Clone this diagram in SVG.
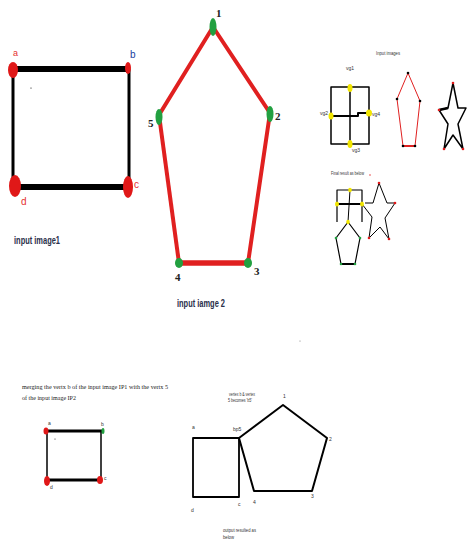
<svg xmlns="http://www.w3.org/2000/svg" width="467" height="542" viewBox="0 0 467 542">
<style>
.lbl{font-family:"Liberation Sans",Arial,sans-serif;}
.ser{font-family:"Liberation Serif","Times New Roman",serif;fill:#222;}
.cap{font-family:"Liberation Sans",Arial,sans-serif;font-weight:bold;fill:#2a2f4a;font-size:11px;}
.tiny{font-family:"Liberation Sans",Arial,sans-serif;font-size:5px;fill:#333;}
.blk{fill:none;stroke:#000;stroke-linejoin:round;}
.red{fill:none;stroke:#e02020;stroke-linejoin:round;}
.rdot{fill:#e01818;}
.gdot{fill:#22a040;}
.ydot{fill:#f2e600;}
</style>
<rect width="467" height="542" fill="#fff"/>

<g id="image1">
  <line x1="13" y1="69" x2="13" y2="187" class="blk" stroke-width="3"/>
  <line x1="129" y1="69" x2="129" y2="187" class="blk" stroke-width="3"/>
  <line x1="12" y1="69" x2="130" y2="69" class="blk" stroke-width="6"/>
  <line x1="12" y1="187" x2="130" y2="187" class="blk" stroke-width="6"/>
  <ellipse cx="13" cy="70" rx="5" ry="8" class="rdot"/>
  <ellipse cx="128" cy="68" rx="3" ry="6" class="rdot"/>
  <ellipse cx="15" cy="186" rx="6" ry="11" class="rdot"/>
  <ellipse cx="128" cy="187" rx="5" ry="11" class="rdot"/>
  <circle cx="31" cy="88" r="0.6" fill="#000"/>
  <text x="13" y="56" class="lbl" font-size="9" fill="#e53030">a</text>
  <text x="130" y="58" class="lbl" font-size="10" fill="#2040a0">b</text>
  <text x="134" y="188" class="lbl" font-size="10" fill="#e53030">c</text>
  <text x="21" y="205" class="lbl" font-size="10" fill="#e53030">d</text>
  <text x="14" y="244" class="cap" textLength="46" lengthAdjust="spacingAndGlyphs">input image1</text>
</g>

<g id="image2">
  <polyline points="159,115 213,27 270,113 248,263" class="red" stroke-width="4"/>
  <line x1="159" y1="115" x2="179" y2="263" class="red" stroke-width="4"/>
  <line x1="179" y1="263" x2="248" y2="263" class="red" stroke-width="5.5"/>
  <ellipse cx="213" cy="27" rx="3.5" ry="9" class="gdot"/>
  <ellipse cx="270" cy="114" rx="3.5" ry="8" class="gdot"/>
  <ellipse cx="248" cy="263" rx="4" ry="5" class="gdot"/>
  <ellipse cx="179" cy="263" rx="4" ry="5" class="gdot"/>
  <ellipse cx="159" cy="117" rx="3.5" ry="8" class="gdot"/>
  <text x="216" y="17" class="ser" font-size="11" font-weight="bold">1</text>
  <text x="275" y="120" class="ser" font-size="11" font-weight="bold">2</text>
  <text x="254" y="275" class="ser" font-size="11" font-weight="bold">3</text>
  <text x="175" y="281" class="ser" font-size="11" font-weight="bold">4</text>
  <text x="148" y="127" class="ser" font-size="11" font-weight="bold">5</text>
  <text x="177" y="307" class="cap" textLength="48" lengthAdjust="spacingAndGlyphs">input iamge 2</text>
</g>

<g id="input-images">
  <text x="376" y="55" class="tiny" textLength="24" lengthAdjust="spacingAndGlyphs">Input images</text>
  <rect x="331" y="87" width="38" height="57" class="blk" stroke-width="1.5"/>
  <line x1="350" y1="87" x2="350" y2="144" class="blk" stroke-width="1.5"/>
  <polyline points="331,116 358,116 358,113 369,113" class="blk" stroke-width="2"/>
  <ellipse cx="350" cy="88" rx="2.5" ry="4" class="ydot"/>
  <ellipse cx="331" cy="116" rx="2.5" ry="3.5" class="ydot"/>
  <ellipse cx="369" cy="113" rx="3" ry="3.5" class="ydot"/>
  <ellipse cx="350" cy="144" rx="2.5" ry="4" class="ydot"/>
  <text x="346" y="70" class="tiny">vg1</text>
  <text x="320" y="115" class="tiny">vg2</text>
  <text x="372" y="116" class="tiny">vg4</text>
  <text x="352" y="152" class="tiny">vg3</text>
  <polyline points="408,73 420,101 415,146 403,146 397,99 408,73" class="red" stroke-width="1"/>
  <line x1="403" y1="146" x2="415" y2="146" class="red" stroke-width="2"/>
  <circle cx="408" cy="73" r="1.3" fill="#000"/>
  <circle cx="420" cy="101" r="1.3" fill="#000"/>
  <circle cx="415" cy="146" r="1.3" fill="#000"/>
  <circle cx="403" cy="146" r="1.3" fill="#000"/>
  <circle cx="397" cy="99" r="1.3" fill="#000"/>
  <polygon points="453,83 458,108 466,108 458,124 463,149 453,135 444,149 448,124 439,110 448,108" class="blk" stroke-width="1.5"/>
  <line x1="439" y1="110" x2="448" y2="108" class="blk" stroke-width="2.5"/>
  <circle cx="453" cy="83" r="1.3" class="rdot"/>
  <circle cx="439" cy="110" r="1.3" class="rdot"/>
  <circle cx="444" cy="149" r="1.3" class="rdot"/>
  <circle cx="463" cy="149" r="1.3" class="rdot"/>
</g>

<g id="final-result">
  <text x="331" y="175" class="tiny" fill="#2040a0" textLength="33" lengthAdjust="spacingAndGlyphs">Final result as below</text>
  <circle cx="370" cy="175" r="0.7" class="rdot"/>
  <polyline points="337,222 337,190 362,190 362,222" class="blk" stroke-width="1.2"/>
  <line x1="350" y1="190" x2="348" y2="222" class="blk" stroke-width="1"/>
  <line x1="337" y1="204" x2="362" y2="204" class="blk" stroke-width="2"/>
  <polygon points="348,222 360,238 355,264 341,264 336,238" class="blk" stroke-width="1.2"/>
  <line x1="341" y1="264" x2="355" y2="264" class="blk" stroke-width="2"/>
  <polyline points="362,204 372,217 369,238 380,227 389,239 385,218 395,203 387,203 379,183 373,203 365,203" class="blk" stroke-width="1"/>
  <ellipse cx="350" cy="190" rx="1.8" ry="2.2" class="ydot"/>
  <ellipse cx="337" cy="204" rx="2" ry="2.5" class="ydot"/>
  <ellipse cx="362" cy="204" rx="2" ry="2.5" class="ydot"/>
  <ellipse cx="348" cy="222" rx="1.8" ry="2.2" class="ydot"/>
  <circle cx="360" cy="238" r="1.3" class="gdot"/>
  <circle cx="355" cy="264" r="1.3" class="gdot"/>
  <circle cx="341" cy="264" r="1.3" class="gdot"/>
  <circle cx="336" cy="238" r="1.3" class="gdot"/>
  <circle cx="379" cy="183" r="1.3" class="rdot"/>
  <circle cx="395" cy="203" r="1.3" class="rdot"/>
  <circle cx="389" cy="239" r="1.3" class="rdot"/>
  <circle cx="369" cy="238" r="1.3" class="rdot"/>
</g>

<g id="merge-step">
  <text x="22" y="389" class="ser" font-size="7" textLength="146" lengthAdjust="spacingAndGlyphs">merging the vertx b of the input image IP1 with the vertx 5</text>
  <text x="22" y="400" class="ser" font-size="7" textLength="54" lengthAdjust="spacingAndGlyphs">of the input image IP2</text>
  <line x1="47" y1="431" x2="47" y2="480" class="blk" stroke-width="1.5"/>
  <line x1="101" y1="431" x2="101" y2="480" class="blk" stroke-width="1.5"/>
  <line x1="46" y1="431" x2="102" y2="431" class="blk" stroke-width="3"/>
  <line x1="46" y1="480" x2="102" y2="480" class="blk" stroke-width="3"/>
  <ellipse cx="46" cy="431" rx="2.5" ry="3.5" class="rdot"/>
  <ellipse cx="103" cy="431" rx="1.5" ry="3" class="gdot"/>
  <ellipse cx="47" cy="481" rx="3" ry="5" class="rdot"/>
  <ellipse cx="100" cy="480" rx="3" ry="4" class="rdot"/>
  <circle cx="55" cy="439" r="0.5" fill="#000"/>
  <text x="48" y="425" class="tiny" fill="#e53030">a</text>
  <text x="101" y="426" class="tiny" fill="#e53030">b</text>
  <text x="104" y="480" class="tiny" fill="#e53030">c</text>
  <text x="50" y="489" class="tiny" fill="#e53030">d</text>
</g>

<g id="output">
  <text x="229" y="396" class="tiny" fill="#223" textLength="26" lengthAdjust="spacingAndGlyphs">vertex b &amp; vertex</text>
  <text x="228" y="402" class="tiny" fill="#2040a0" textLength="24" lengthAdjust="spacingAndGlyphs">5 becomes 'b5'</text>
  <rect x="193" y="438" width="46" height="59" class="blk" stroke-width="1.8"/>
  <polygon points="239,438 283,405 327,438 312,491 254,491" class="blk" stroke-width="2"/>
  <text x="192" y="429" class="tiny">a</text>
  <text x="233" y="431" class="tiny">bp5</text>
  <text x="283" y="398" class="tiny">1</text>
  <text x="329" y="441" class="tiny">2</text>
  <text x="311" y="498" class="tiny">3</text>
  <text x="253" y="504" class="tiny">4</text>
  <text x="238" y="506" class="tiny" fill="#4a4">c</text>
  <text x="191" y="512" class="tiny">d</text>
  <text x="223" y="532" class="tiny" textLength="33" lengthAdjust="spacingAndGlyphs">output resulted as</text>
  <text x="223" y="539" class="tiny" textLength="11" lengthAdjust="spacingAndGlyphs">below</text>
  <circle cx="300" cy="341" r="0.5" fill="#666"/>
</g>
</svg>
